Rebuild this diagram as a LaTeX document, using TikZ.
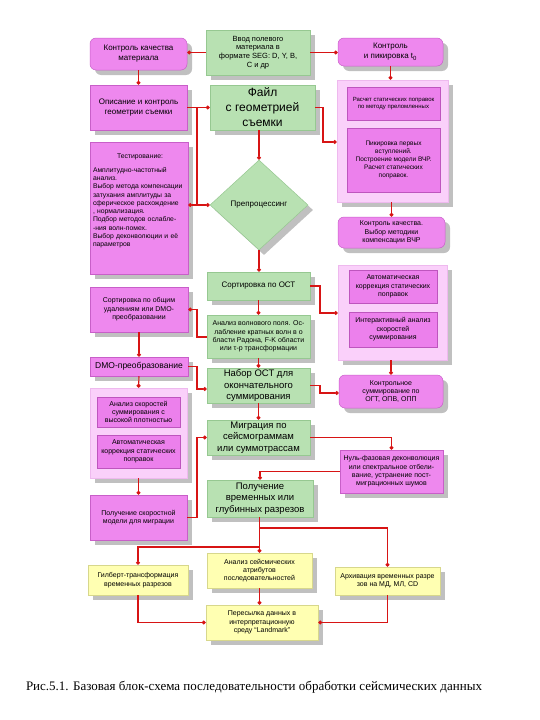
\documentclass[tikz,border=0pt]{standalone}
\usepackage{fontspec}
\setmainfont{Liberation Sans}
\newfontfamily\capfont{Liberation Serif}
\usetikzlibrary{shapes.geometric,arrows.meta,shadows}
\definecolor{pinkf}{RGB}{238,136,238}
\definecolor{pinkd}{RGB}{200,95,200}
\definecolor{contf}{RGB}{250,208,250}
\definecolor{contd}{RGB}{238,185,238}
\definecolor{innerf}{RGB}{236,128,236}
\definecolor{innerd}{RGB}{190,85,190}
\definecolor{greenf}{RGB}{184,225,178}
\definecolor{greend}{RGB}{150,200,145}
\definecolor{yelf}{RGB}{255,255,178}
\definecolor{yeld}{RGB}{215,215,140}
\definecolor{redc}{RGB}{215,20,20}
\definecolor{shd}{RGB}{192,192,192}
\tikzset{
  box/.style={draw, line width=0.5pt, inner sep=1pt, align=center,
    drop shadow={shadow xshift=5pt, shadow yshift=-5pt, fill=shd, opacity=1}},
  pinkbox/.style={box, fill=pinkf, draw=pinkd},
  pinkround/.style={pinkbox, rounded corners=6pt},
  greenbox/.style={box, fill=greenf, draw=greend},
  yellowbox/.style={box, fill=yelf, draw=yeld},
  contbox/.style={box, fill=contf, draw=contd},
  innerbox/.style={draw=innerd, fill=innerf, line width=0.5pt, align=center, inner sep=1pt},
  conn/.style={draw=redc, line width=1.1pt, -{Circle[length=4pt]}},
  plainconn/.style={draw=redc, line width=1.1pt},
  fA/.style={font=\fontsize{8}{10}\selectfont},
  fB/.style={font=\fontsize{7}{8.4}\selectfont},
  fC/.style={font=\fontsize{9.5}{11.5}\selectfont},
  fD/.style={font=\fontsize{6}{7.5}\selectfont},
}
\begin{document}
\begin{tikzpicture}[x=1pt,y=-1pt]
\useasboundingbox[fill=white] (0,0) rectangle (540,720);

% left column
\node[pinkround, fA, minimum width=97pt, minimum height=32pt] (L1) at (138.5,54) {Контроль качества\\материала};
\node[pinkbox, fA, minimum width=97pt, minimum height=45pt] (L2) at (138.5,107.5) {Описание и контроль\\геометрии съемки};
\node[pinkbox, minimum width=98pt, minimum height=132pt] (L3) at (139,208) {};
\node[font=\fontsize{6.8}{8.3}\selectfont, text width=94pt, align=left, anchor=north, inner sep=0pt] (L3t) at (140,154)
 {\makebox[94pt]{Тестирование:}\\[5pt]
  Амплитудно-частотный\\анализ.\\Выбор метода компенсации\\затухания амплитуды за\\сферическое расхождение\\, нормализация.\\Подбор методов ослабле-\\-ния волн-помех.\\Выбор деконволюции и её\\параметров};
\node[pinkbox, fB, minimum width=98pt, minimum height=45pt] (L4) at (139,309.5) {Сортировка по общим\\удалениям или DMO-\\преобразовании};
\node[pinkbox, font=\fontsize{8.5}{10}\selectfont, minimum width=98pt, minimum height=19pt] (L5) at (139,366.5) {DMO-преобразование};
\node[contbox, minimum width=97pt, minimum height=90pt] (L6) at (138.5,433) {};
\node[innerbox, fB, minimum width=83pt, minimum height=30pt] (L6a) at (138.5,412) {Анализ скоростей\\суммирования с\\высокой плотностью};
\node[innerbox, fB, minimum width=83pt, minimum height=33pt] (L6b) at (138.5,451.5) {Автоматическая\\коррекция статических\\поправок};
\node[pinkbox, fB, minimum width=97pt, minimum height=45pt] (L7) at (138.5,517.5) {Получение скоростной\\модели для миграции};
\node[yellowbox, fB, minimum width=100pt, minimum height=30pt] (L8) at (138,580) {Гилберт-трансформация\\временных разрезов};

% center column
\node[greenbox, font=\fontsize{7.5}{8.7}\selectfont, minimum width=104pt, minimum height=45pt] (C1) at (258,52.5) {Ввод полевого\\материала в\\формате SEG: D, Y, B,\\C и др};
\node[greenbox, font=\fontsize{12}{15}\selectfont, minimum width=105pt, minimum height=45pt] (C2) at (262.5,107.5) {Файл\\с геометрией\\съемки};
\node[diamond, box, fill=greenf, draw=greend, fA, minimum width=98pt, minimum height=90pt, inner sep=0pt] (D) at (259,205) {Препроцессинг};
\node[greenbox, fA, minimum width=103pt, minimum height=28pt] (C4) at (258.5,286) {Сортировка по ОСТ};
\node[greenbox, fB, minimum width=103pt, minimum height=43pt] (C5) at (258.5,336.5) {Анализ волнового поля. Ос-\\лабление кратных волн в о\\бласти Радона, F-K области\\или τ-p трансформации};
\node[greenbox, fC, minimum width=103pt, minimum height=35pt] (C6) at (258.5,385.5) {Набор ОСТ для\\окончательного\\суммирования};
\node[greenbox, fC, minimum width=103pt, minimum height=35pt] (C7) at (258.5,437.5) {Миграция по\\сейсмограммам\\или суммотрассам};
\node[greenbox, fC, minimum width=106pt, minimum height=37pt] (C8) at (260,498.5) {Получение\\временных или\\глубинных разрезов};
\node[yellowbox, fB, minimum width=105pt, minimum height=35pt] (C9) at (259.5,570.5) {Анализ сейсмических\\атрибутов\\последовательностей};
\node[yellowbox, fB, minimum width=112pt, minimum height=35pt] (C10) at (262,622.5) {Пересылка данных в\\интерпретационную\\среду “Landmark”};

% right column
\node[pinkround, fA, minimum width=105pt, minimum height=28pt] (R1) at (390.5,52) {Контроль\\и пикировка t\textsubscript{0}};
\node[contbox, minimum width=111pt, minimum height=122pt] (R2) at (392.5,141) {};
\node[innerbox, fD, minimum width=93pt, minimum height=33pt] (R2a) at (393.5,103.5) {Расчет статических поправок\\по методу преломленных};
\node[innerbox, font=\fontsize{6.5}{7.8}\selectfont, minimum width=93pt, minimum height=64pt] (R2b) at (393.5,160) {Пикировка первых\\вступлений.\\Построение модели ВЧР.\\Расчет статических\\поправок.};
\node[pinkround, fB, minimum width=107pt, minimum height=31pt] (R3) at (391.5,232.5) {Контроль качества.\\Выбор методики\\компенсации ВЧР};
\node[contbox, minimum width=109pt, minimum height=95pt] (R4) at (392.5,312.5) {};
\node[innerbox, fB, minimum width=88pt, minimum height=33pt] (R4a) at (393,286.5) {Автоматическая\\коррекция статических\\поправок};
\node[innerbox, fB, minimum width=88pt, minimum height=35pt] (R4b) at (393,329.5) {Интерактивный анализ\\скоростей\\суммирования};
\node[pinkround, fB, minimum width=104pt, minimum height=33pt] (R5) at (391,391.5) {Контрольное\\суммирование по\\ОГТ, ОПВ, ОПП};
\node[pinkbox, fB, minimum width=103pt, minimum height=43pt] (R6) at (391.5,471.5) {Нуль-фазовая деконволюция\\или спектральное отбели-\\вание, устранение пост-\\миграционных шумов};
\node[yellowbox, fB, minimum width=105pt, minimum height=28pt] (R7) at (387.5,581) {Архивация временных разре\\зов на МД, МЛ, CD};

% caption
\node[font=\capfont\fontsize{13}{15}\selectfont] (cap) at (254,687) {Рис.5.1. Базовая блок-схема последовательности обработки сейсмических данных};

% junction coordinates
\coordinate (j1) at (197,205);
\coordinate (j2) at (323,142);
\coordinate (j3) at (320,313);
\coordinate (j4) at (197,337);
\coordinate (j5) at (197,389);
\coordinate (j6) at (320,393);
\coordinate (j7) at (197,437.5);
\coordinate (j8) at (260,528);
\coordinate (j9) at (260,547);

% connectors
\draw[conn] (C1.west) -- (C1.west -| L1.east);
\draw[conn] (C1.east) -- (C1.east -| R1.west);
\draw[conn] (L1.south) -- (L2.north);
\draw[conn] (L2.east) -- (C2.west);
\draw[plainconn] (L2.east -| j1) -- (j1);
\draw[conn] (j1) -- (D.west);
\draw[conn] (j1) -- (j1 -| L3.east);
\draw[conn] (D.north |- C2.south) -- (D.north);
\draw[conn] (C2.east) -| (j2) -- (j2 -| R2.west);
\draw[conn] (R1.south) -- (R1.south |- R2.north);
\draw[conn] (R3.north |- R2.south) -- (R3.north);
\draw[conn] (D.south) -- (D.south |- C4.north);
\draw[conn] (C4.east) -| (j3) -- (j3 -| R4.west);
\draw[conn] (R5.north |- R4.south) -- (R5.north);
\draw[conn] (C4.south) -- (C5.north);
\draw[conn] (j4 -| C5.west) -- (j4) |- (L4.east);
\draw[conn] (L4.south) -- (L5.north);
\draw[conn] (C5.south) -- (C6.north);
\draw[conn] (L5.east) -| (j5) -- (j5 -| C6.west);
\draw[conn] (L5.south) -- (L6.north);
\draw[conn] (C6.east) -| (j6) -- (j6 -| R5.west);
\draw[conn] (C6.south) -- (C7.north);
\draw[conn] (L6.south) -- (L7.north);
\draw[conn] (L7.east) -| (j7) -- (C7.west);
\draw[conn] (C7.east) -| (R6.north);
\draw[conn] (R6.west) -| (C8.north);
\draw[conn] (C8.south -| C9.north) -- (C9.north);
\draw[conn] (j8) -| (R7.north);
\draw[conn] (j9) -| (L8.north);
\draw[conn] (L8.south) |- (C10.west);
\draw[conn] (C9.south) -- (C9.south |- C10.north);
\draw[conn] (R7.south) |- (C10.east);
\end{tikzpicture}
\end{document}
